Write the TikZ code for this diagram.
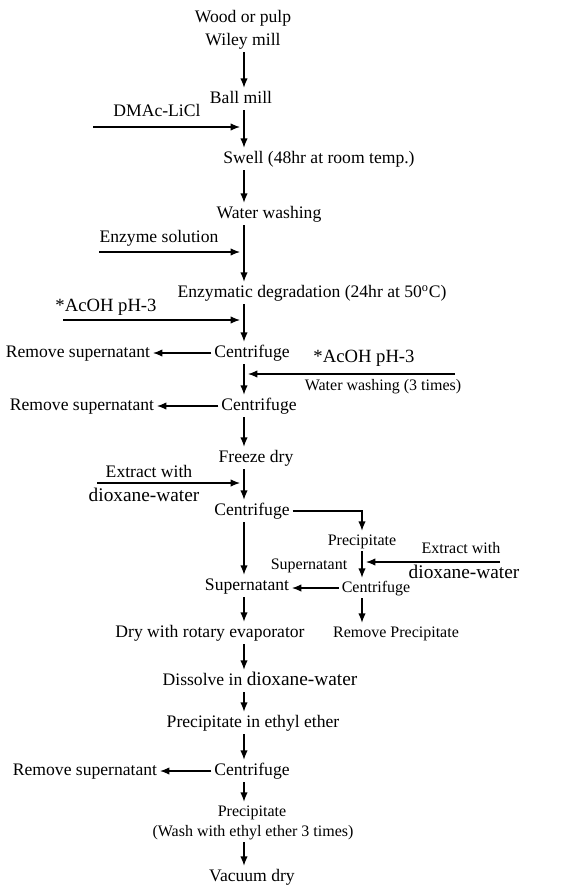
\documentclass[tikz,border=0pt]{standalone}
\usepackage{fontspec}
\setmainfont{Liberation Serif}
\usetikzlibrary{arrows.meta}
\newcommand{\dioxw}{{\fontsize{14.5}{16}\selectfont dioxane-water}}

\begin{document}
\begin{tikzpicture}[x=0.75pt, y=-0.75pt,
 stage/.style={inner sep=2pt, text height=9.5pt, text depth=3pt, font=\fontsize{13.2}{15}\selectfont},
 minor/.style={inner sep=2pt, text height=8.5pt, text depth=2.5pt, font=\fontsize{12}{14}\selectfont},
 arr/.style={-{Latex[length=7pt,width=5.5pt]}, line width=0.9pt}]
 \useasboundingbox (0,0) rectangle (576,889);
 \coordinate (spine) at (244,0);
 \coordinate (branch) at (362,0);
 % main column
 \node[stage] (wood) at (243,18){Wood or pulp};
 \node[stage] (wiley) at (243,41){Wiley mill};
 \node[stage] (ball) at (241,99){Ball mill};
 \node[stage] (swell) at (319,159){Swell (48hr at room temp.)};
 \node[stage] (water) at (269,214){Water washing};
 \node[stage] (enzdeg) at (312,293){Enzymatic degradation (24hr at 50\textsuperscript{o}C)};
 \node[stage] (cen1) at (252,353){Centrifuge};
 \node[stage] (cen2) at (259,406){Centrifuge};
 \node[stage] (freeze) at (256,458){Freeze dry};
 \node[stage] (cen3) at (252,511){Centrifuge};
 \node[stage] (sup) at (247,586){Supernatant};
 \node[stage] (dry) at (210,633){Dry with rotary evaporator};
 \node[stage] (dissolve) at (260,681){Dissolve in \dioxw};
 \node[stage] (precip) at (253,723){Precipitate in ethyl ether};
 \node[stage] (cen4) at (252,771){Centrifuge};
 \node[minor] (prec) at (252,812){Precipitate};
 \node[minor] (wash) at (253,832){(Wash with ethyl ether 3 times)};
 \node[stage] (vacuum) at (252,877){Vacuum dry};
 % inputs and outputs
 \node[stage] (dmac) at (157,112){DMAc-LiCl};
 \coordinate (dmacin) at (93,127);
 \node[stage] (enzsol) at (159,238){Enzyme solution};
 \coordinate (enzin) at (99,252);
 \node[stage, font=\fontsize{14}{16}\selectfont] (acoh1) at (106,307){*AcOH pH-3};
 \coordinate (acohin1) at (63,320);
 \node[stage] (rem1) at (78,353){Remove supernatant};
 \node[stage, font=\fontsize{14}{16}\selectfont] (acoh2) at (364,358){*AcOH pH-3};
 \coordinate (acohin2) at (455,374);
 \node[minor] (water3) at (383,386){Water washing (3 times)};
 \node[stage] (rem2) at (82,406){Remove supernatant};
 \node[stage] (ext1) at (149,473){Extract with};
 \node[stage] (dio1) at (144,497){\dioxw};
 \coordinate (extin1) at (97,483);
 \node[minor] (precs) at (362,541){Precipitate};
 \node[minor] (sups) at (309,565){Supernatant};
 \node[minor] (ext2) at (461,549){Extract with};
 \node[stage] (dio2) at (464,574){\dioxw};
 \coordinate (extin2) at (500,562);
 \node[minor] (cens) at (376,588){Centrifuge};
 \node[minor] (remprec) at (396,633){Remove Precipitate};
 \node[stage] (rem4) at (85,771){Remove supernatant};
 % connectors
 \foreach \a/\b in {wiley/ball, ball/swell, swell/water, water/enzdeg, enzdeg/cen1, cen1/cen2, cen2/freeze, freeze/cen3, cen3/sup, sup/dry, dry/dissolve, dissolve/precip, precip/cen4, cen4/prec, wash/vacuum}
  \draw[arr] (\a.south -| spine) -- (\b.north -| spine);
 \foreach \c in {dmacin, enzin, acohin1, acohin2, extin1}
  \draw[arr, shorten >=3pt] (\c) -- (\c -| spine);
 \draw[arr, shorten >=3pt] (extin2) -- (extin2 -| branch);
 \draw[arr] (cen1.west) -- (cen1.west -| rem1.east);
 \draw[arr] (cen2.west) -- (cen2.west -| rem2.east);
 \draw[arr] (cen4.west) -- (cen4.west -| rem4.east);
 \draw[arr] (cen3.east) -| (precs);
 \draw[arr] (precs.south) -- (precs.south |- cens.north);
 \draw[arr] (cens.west) -- (cens.west -| sup.east);
 \draw[arr] (cens.south -| branch) -- (remprec.north -| branch);
\end{tikzpicture}
\end{document}
